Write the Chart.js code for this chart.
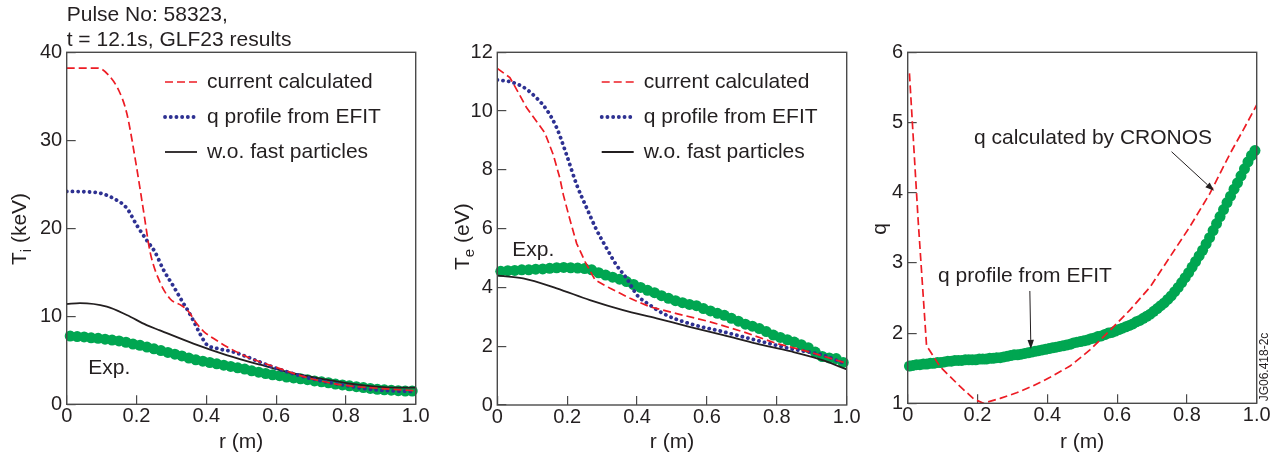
<!DOCTYPE html>
<html>
<head>
<meta charset="utf-8">
<script src="https://cdn.jsdelivr.net/npm/chart.js@4.4.1/dist/chart.umd.min.js"></script>
<style>
  html, body { margin: 0; padding: 0; background: #fff; width: 1284px; height: 461px; overflow: hidden; }
  canvas { position: absolute; top: 0; }
</style>
</head>
<body>
<canvas id="ti" width="430" height="461" style="left:0"></canvas>
<canvas id="te" width="430" height="461" style="left:430px"></canvas>
<canvas id="q" width="424" height="461" style="left:860px"></canvas>
<script>
// ---- data ----
const seriesNames = ['current calculated', 'q profile from EFIT', 'w.o. fast particles'];
const xTicks = [0, 0.2, 0.4, 0.6, 0.8, 1.0];

// Ti panel (keV)
const tiRedR = [0, 0.09, 0.12, 0.15, 0.172, 0.2, 0.22, 0.239, 0.267, 0.296, 0.33, 0.348, 0.372, 0.392, 0.42, 0.459, 0.516, 0.6, 0.697, 0.79, 0.936, 1.0];
const tiRedV = [38.2, 38.2, 37.4, 35.6, 33.1, 27.0, 22.0, 17.3, 13.9, 12.0, 11.2, 10.6, 9.2, 8.3, 7.5, 6.55, 5.4, 4.2, 2.95, 2.2, 1.7, 1.55];
const tiBlueR = [0, 0.05, 0.095, 0.134, 0.172, 0.2, 0.23, 0.253, 0.277, 0.306, 0.334, 0.348, 0.363, 0.382, 0.401, 0.43, 0.478, 0.554, 0.6, 0.697, 0.79, 0.888, 1.0];
const tiBlueV = [24.2, 24.15, 24.0, 23.4, 22.3, 20.4, 18.6, 17.3, 15.3, 13.4, 11.5, 10.6, 9.5, 8.0, 6.8, 6.35, 5.95, 4.8, 4.1, 2.95, 2.2, 1.63, 1.44];
const tiBlackR = [0, 0.038, 0.115, 0.172, 0.229, 0.267, 0.363, 0.458, 0.554, 0.65, 0.745, 0.84, 0.936, 1.0];
const tiBlackV = [11.4, 11.5, 11.1, 10.15, 9.0, 8.4, 6.9, 5.6, 4.5, 3.5, 2.8, 2.2, 1.9, 1.9];

// Te panel
const teRedR = [0, 0.036, 0.055, 0.084, 0.122, 0.136, 0.16, 0.179, 0.189, 0.208, 0.227, 0.251, 0.28, 0.323, 0.38, 0.437, 0.513, 0.609, 0.704, 0.8, 0.895, 1.0];
const teRedV = [11.45, 11.14, 10.74, 10.11, 9.49, 9.26, 8.52, 7.72, 7.15, 6.3, 5.5, 4.88, 4.25, 3.97, 3.63, 3.34, 3.11, 2.83, 2.49, 2.09, 1.8, 1.42];
const teBlueR = [0, 0.036, 0.074, 0.112, 0.141, 0.17, 0.198, 0.227, 0.256, 0.284, 0.313, 0.341, 0.37, 0.4, 0.437, 0.475, 0.55, 0.647, 0.742, 0.838, 0.933, 1.0];
const teBlueV = [11.06, 11.0, 10.82, 10.45, 10.05, 9.43, 8.52, 7.5, 6.7, 5.96, 5.33, 4.76, 4.31, 3.74, 3.4, 3.11, 2.77, 2.49, 2.2, 1.92, 1.69, 1.38];
const teBlackR = [0, 0.074, 0.17, 0.265, 0.36, 0.456, 0.55, 0.647, 0.742, 0.838, 0.933, 1.0];
const teBlackV = [4.4, 4.31, 3.97, 3.57, 3.23, 2.95, 2.66, 2.38, 2.09, 1.83, 1.52, 1.21];

// q panel
const qRedR = [0.005, 0.03, 0.054, 0.093, 0.15, 0.19, 0.217, 0.265, 0.312, 0.36, 0.408, 0.465, 0.522, 0.58, 0.637, 0.695, 0.752, 0.809, 0.866, 0.924, 0.96, 1.0];
const qRedV = [5.70, 3.6, 1.82, 1.52, 1.24, 1.06, 1.0, 1.07, 1.15, 1.25, 1.37, 1.53, 1.76, 2.04, 2.33, 2.66, 3.09, 3.52, 3.99, 4.56, 4.88, 5.25];

// experimental points (green), Ti and Te profiles
const rExp = [0.01, 0.03, 0.05, 0.07, 0.09, 0.11, 0.13, 0.15, 0.17, 0.19,
              0.21, 0.23, 0.25, 0.27, 0.29, 0.31, 0.33, 0.35, 0.37, 0.39,
              0.41, 0.43, 0.45, 0.47, 0.49, 0.51, 0.53, 0.55, 0.57, 0.59,
              0.61, 0.63, 0.65, 0.67, 0.69, 0.71, 0.73, 0.75, 0.77, 0.79,
              0.81, 0.83, 0.85, 0.87, 0.89, 0.91, 0.93, 0.95, 0.97, 0.99];
const tiExp = [7.75, 7.7, 7.65, 7.55, 7.5, 7.4, 7.3, 7.2, 7.05, 6.85,
               6.7, 6.5, 6.3, 6.1, 5.9, 5.7, 5.5, 5.25, 5.05, 4.9,
               4.75, 4.6, 4.45, 4.3, 4.15, 4.0, 3.8, 3.65, 3.5, 3.35,
               3.25, 3.1, 3.0, 2.9, 2.8, 2.65, 2.55, 2.45, 2.3, 2.2,
               2.1, 2.0, 1.9, 1.8, 1.7, 1.65, 1.6, 1.55, 1.5, 1.5];
const teExp = [4.55, 4.57, 4.58, 4.6, 4.6, 4.62, 4.63, 4.65, 4.67, 4.68,
               4.67, 4.66, 4.64, 4.6, 4.5, 4.42, 4.35, 4.28, 4.2, 4.1,
               4.0, 3.9, 3.82, 3.72, 3.63, 3.55, 3.48, 3.42, 3.38, 3.28,
               3.2, 3.12, 3.05, 2.95, 2.85, 2.75, 2.68, 2.6, 2.5, 2.38,
               2.3, 2.22, 2.14, 2.05, 1.95, 1.8, 1.65, 1.6, 1.58, 1.45];

// EFIT q profile (green), denser sampling
const rExpQ = [0.005, 0.015, 0.025, 0.035, 0.045, 0.055, 0.065, 0.075, 0.085, 0.095,
               0.105, 0.115, 0.125, 0.135, 0.145, 0.155, 0.165, 0.175, 0.185, 0.195,
               0.205, 0.215, 0.225, 0.235, 0.245, 0.255, 0.265, 0.275, 0.285, 0.295,
               0.305, 0.315, 0.325, 0.335, 0.345, 0.355, 0.365, 0.375, 0.385, 0.395,
               0.405, 0.415, 0.425, 0.435, 0.445, 0.455, 0.465, 0.475, 0.485, 0.495,
               0.505, 0.515, 0.525, 0.535, 0.545, 0.555, 0.565, 0.575, 0.585, 0.595,
               0.605, 0.615, 0.625, 0.635, 0.645, 0.655, 0.665, 0.675, 0.685, 0.695,
               0.705, 0.715, 0.725, 0.735, 0.745, 0.755, 0.765, 0.775, 0.785, 0.795,
               0.805, 0.815, 0.825, 0.835, 0.845, 0.855, 0.865, 0.875, 0.885, 0.895,
               0.905, 0.915, 0.925, 0.935, 0.945, 0.955, 0.965, 0.975, 0.985, 0.995];
const qExp = [1.53, 1.54, 1.55, 1.55, 1.56, 1.56, 1.57, 1.57, 1.58, 1.58,
              1.59, 1.6, 1.6, 1.61, 1.61, 1.61, 1.62, 1.62, 1.62, 1.62,
              1.63, 1.63, 1.63, 1.64, 1.64, 1.65, 1.65, 1.66, 1.67, 1.68,
              1.69, 1.69, 1.7, 1.71, 1.72, 1.73, 1.74, 1.75, 1.76, 1.77,
              1.78, 1.79, 1.8, 1.81, 1.82, 1.83, 1.84, 1.86, 1.87, 1.88,
              1.89, 1.9, 1.92, 1.93, 1.95, 1.96, 1.98, 2.0, 2.01, 2.03,
              2.05, 2.07, 2.09, 2.11, 2.13, 2.16, 2.18, 2.21, 2.24, 2.27,
              2.31, 2.35, 2.39, 2.43, 2.48, 2.53, 2.59, 2.65, 2.72, 2.79,
              2.86, 2.94, 3.02, 3.1, 3.18, 3.27, 3.36, 3.46, 3.56, 3.66,
              3.76, 3.86, 3.95, 4.05, 4.14, 4.24, 4.34, 4.44, 4.53, 4.6];

// ---- styling ----
const FONT = '"Liberation Sans", Arial, Helvetica, sans-serif';
const INK = '#231f20';
const FRAME = '#4a4a4a';
const RED = '#ed1c24', BLUE = '#2e3192', GREEN = '#00a651';

const pts = (xs, ys) => xs.map((x, i) => ({ x: x, y: ys[i] }));

function redLine(label, xs, ys, smooth) {
  return { label, data: pts(xs, ys), borderColor: RED, borderWidth: 1.7, borderDash: [8, 4],
           pointRadius: 0, fill: false, cubicInterpolationMode: smooth ? 'monotone' : 'default', tension: 0 };
}
function blueLine(label, xs, ys) {
  return { label, data: pts(xs, ys), borderColor: BLUE, borderWidth: 3.8, borderDash: [0.1, 5.6],
           borderCapStyle: 'round', pointRadius: 0, fill: false, cubicInterpolationMode: 'monotone' };
}
function blackLine(label, xs, ys) {
  return { label, data: pts(xs, ys), borderColor: INK, borderWidth: 1.8,
           pointRadius: 0, fill: false, cubicInterpolationMode: 'monotone' };
}
function expPoints(label, xs, ys) {
  return { label, data: pts(xs, ys), showLine: false, pointRadius: 5.5, pointBorderWidth: 0,
           pointBackgroundColor: GREEN, backgroundColor: GREEN, clip: false, isExp: true };
}

// draws frame, legend, notes, arrows and y title
const extras = {
  id: 'extras',
  afterDraw(chart, args, o) {
    const ctx = chart.ctx, a = chart.chartArea, xs = chart.scales.x, ys = chart.scales.y;
    ctx.save();
    ctx.setLineDash([]);
    ctx.strokeStyle = FRAME;
    ctx.lineWidth = 1.4;
    ctx.strokeRect(a.left, a.top, a.right - a.left, a.bottom - a.top);

    ctx.fillStyle = INK;
    ctx.font = '21px ' + FONT;
    ctx.textAlign = 'left';

    if (o.legend) {
      chart.data.datasets.filter(d => !d.isExp).forEach((d, i) => {
        const y = a.top + o.legend.top + i * 35;
        const x0 = a.left + o.legend.left;
        ctx.save();
        ctx.strokeStyle = d.borderColor;
        ctx.lineWidth = d.borderWidth;
        ctx.lineCap = d.borderCapStyle || 'butt';
        ctx.setLineDash(d.borderDash || []);
        ctx.beginPath();
        ctx.moveTo(x0, y);
        ctx.lineTo(x0 + 32, y);
        ctx.stroke();
        ctx.restore();
        ctx.textBaseline = 'middle';
        ctx.fillText(d.label, x0 + 42, y);
      });
    }

    (o.heading || []).forEach(h => {
      ctx.textBaseline = 'alphabetic';
      ctx.fillText(h.text, a.left, h.y);
    });

    (o.notes || []).forEach(n => {
      ctx.textBaseline = 'middle';
      ctx.fillText(n.text, xs.getPixelForValue(n.r), ys.getPixelForValue(n.v));
    });

    (o.arrows || []).forEach(ar => {
      const x1 = xs.getPixelForValue(ar.from[0]), y1 = ys.getPixelForValue(ar.from[1]);
      const x2 = xs.getPixelForValue(ar.to[0]), y2 = ys.getPixelForValue(ar.to[1]);
      const ang = Math.atan2(y2 - y1, x2 - x1), L = 9, W = 3.2;
      const c = Math.cos(ang), s = Math.sin(ang);
      ctx.strokeStyle = INK;
      ctx.lineWidth = 1;
      ctx.beginPath();
      ctx.moveTo(x1, y1);
      ctx.lineTo(x2 - L * c, y2 - L * s);
      ctx.stroke();
      ctx.beginPath();
      ctx.moveTo(x2, y2);
      ctx.lineTo(x2 - L * c + W * s, y2 - L * s - W * c);
      ctx.lineTo(x2 - L * c - W * s, y2 - L * s + W * c);
      ctx.closePath();
      ctx.fill();
    });

    if (o.stamp) {
      ctx.save();
      ctx.translate(o.stamp.x, o.stamp.y);
      ctx.rotate(-Math.PI / 2);
      ctx.font = '12px ' + FONT;
      ctx.textAlign = 'center';
      ctx.textBaseline = 'middle';
      ctx.fillText(o.stamp.text, 0, 0);
      ctx.restore();
    }

    if (o.yTitle) {
      const t = o.yTitle;
      const big = '21px ' + FONT, small = '15px ' + FONT;
      ctx.save();
      ctx.translate(t.x, t.y);
      ctx.rotate(-Math.PI / 2);
      ctx.textBaseline = 'alphabetic';
      ctx.font = big;
      const w1 = ctx.measureText(t.main).width, w3 = ctx.measureText(t.rest).width;
      ctx.font = small;
      const w2 = t.sub ? ctx.measureText(t.sub).width : 0;
      let x = -(w1 + w2 + w3) / 2;
      const base = 7;
      ctx.font = big;
      ctx.fillText(t.main, x, base); x += w1;
      if (t.sub) { ctx.font = small; ctx.fillText(t.sub, x, base + 5); x += w2; }
      ctx.font = big;
      ctx.fillText(t.rest, x, base);
      ctx.restore();
    }
    ctx.restore();
  }
};

function makeChart(id, datasets, box, yMin, yMax, yStep, extraOpts) {
  return new Chart(document.getElementById(id), {
    type: 'line',
    data: { datasets },
    plugins: [extras],
    options: {
      responsive: false,
      devicePixelRatio: 1,
      animation: false,
      events: [],
      layout: { padding: { left: 0, right: box.right, top: box.top, bottom: 0 } },
      plugins: { legend: { display: false }, tooltip: { enabled: false }, extras: extraOpts },
      scales: {
        x: {
          type: 'linear', min: 0, max: 1,
          border: { display: false },
          grid: { drawOnChartArea: false, drawTicks: true, tickLength: -9, color: FRAME, lineWidth: 1.2 },
          afterBuildTicks: s => { s.ticks = xTicks.map(v => ({ value: v })); },
          ticks: { padding: 9, color: INK, font: { family: FONT, size: 20 }, maxRotation: 0, autoSkip: false,
                   callback: v => v === 0 ? '0' : v.toFixed(1) },
          title: { display: true, text: 'r (m)', color: INK, font: { family: FONT, size: 21 }, padding: { top: 0, bottom: 6.4 } },
          afterFit: s => { s.height = box.xh; s.paddingLeft = 0; s.paddingRight = 0; }
        },
        y: {
          type: 'linear', min: yMin, max: yMax,
          border: { display: false },
          grid: { drawOnChartArea: false, drawTicks: true, tickLength: -9, color: FRAME, lineWidth: 1.2 },
          ticks: { stepSize: yStep, padding: 13.5, color: INK, font: { family: FONT, size: 20 } },
          afterFit: s => { s.width = box.yw; s.paddingTop = 0; s.paddingBottom = 0; }
        }
      }
    }
  });
}

makeChart('ti', [
  redLine(seriesNames[0], tiRedR, tiRedV, true),
  blueLine(seriesNames[1], tiBlueR, tiBlueV),
  blackLine(seriesNames[2], tiBlackR, tiBlackV),
  expPoints('Exp.', rExp, tiExp)
], { yw: 66.7, right: 14.3, top: 52.3, xh: 56.7 }, 0, 40, 10, {
  legend: { left: 98.3, top: 29.7 },
  heading: [{ text: 'Pulse No: 58323,', y: 20.7 }, { text: 't = 12.1s, GLF23 results', y: 45.5 }],
  notes: [{ text: 'Exp.', r: 0.062, v: 4.09 }],
  yTitle: { main: 'T', sub: 'i', rest: ' (keV)', x: 19, y: 229 }
});

makeChart('te', [
  redLine(seriesNames[0], teRedR, teRedV, false),
  blueLine(seriesNames[1], teBlueR, teBlueV),
  blackLine(seriesNames[2], teBlackR, teBlackV),
  expPoints('Exp.', rExp, teExp)
], { yw: 67.3, right: 13.3, top: 52.3, xh: 56 }, 0, 12, 2, {
  legend: { left: 104.4, top: 29.7 },
  notes: [{ text: 'Exp.', r: 0.043, v: 5.27 }],
  yTitle: { main: 'T', sub: 'e', rest: ' (eV)', x: 31.7, y: 236.7 }
});

makeChart('q', [
  redLine('q calculated by CRONOS', qRedR, qRedV, false),
  expPoints('q profile from EFIT', rExpQ, qExp)
], { yw: 47.7, right: 27.3, top: 52.3, xh: 57.7 }, 1, 6, 1, {
  notes: [{ text: 'q calculated by CRONOS', r: 0.19, v: 4.78 }, { text: 'q profile from EFIT', r: 0.087, v: 2.81 }],
  arrows: [{ from: [0.756, 4.584], to: [0.878, 4.026] }, { from: [0.350, 2.60], to: [0.353, 1.775] }],
  stamp: { text: 'JG06.418-2c', x: 405, y: 367 },
  yTitle: { main: 'q', rest: '', x: 19, y: 229 }
});
</script>
</body>
</html>
